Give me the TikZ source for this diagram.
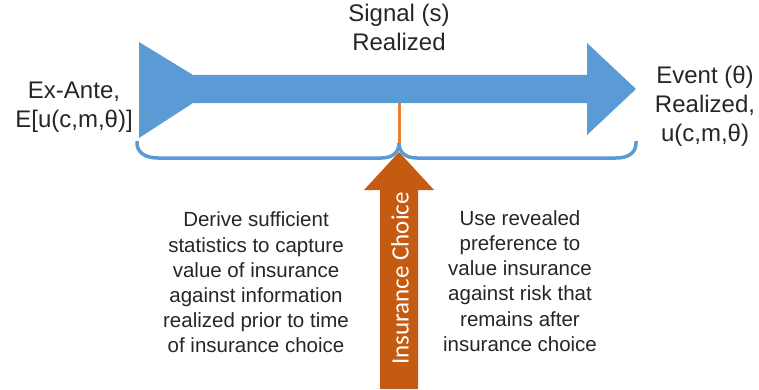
\documentclass[tikz,border=0pt]{standalone}
\usepackage{fontspec}
\setmainfont{Liberation Sans}
\newfontfamily\choicefont{Carlito}
\usetikzlibrary{positioning}

\definecolor{arrowblue}{RGB}{91,155,213}
\definecolor{lineorange}{RGB}{237,125,49}
\definecolor{choiceorange}{RGB}{197,90,17}

\begin{document}
\begin{tikzpicture}[x=1pt,y=1pt,
        lbl/.style={text=black!85,align=center,inner sep=0pt,font=\fontsize{24}{29}\selectfont},
        note/.style={text=black!85,align=center,inner sep=0pt,font=\fontsize{20.5}{25.2}\selectfont}]
        \useasboundingbox (0,0) rectangle (759,389);
        % time line
        \fill[arrowblue] (139,347) -- (193,314) -- (587,314) -- (587,346) -- (636,300)
        -- (587,254) -- (587,286) -- (193,286) -- (139,251) -- cycle;
        \coordinate (shaft) at (399,286);
        \coordinate (cusp) at (399,246);
        \draw[lineorange,line width=3pt] (shaft) -- (cusp);
        % brace under the time line
        \draw[arrowblue,line width=3.5pt] (137,248) -- (137,246) .. controls (137,236) and (146,231) .. (158,231) -- (381,231)
        .. controls (393,231) and (399,237) .. (cusp) .. controls (399,237) and (405,231) .. (417,231) -- (616,231)
        .. controls (628,231) and (636,236) .. (636,246) -- (636,248);
        % insurance choice arrow
        \fill[choiceorange] (380,0) -- (380,199) -- (364,199) -- (399,237) -- (434,199)
        -- (418,199) -- (418,0) -- cycle;
        \node[rotate=90,text=white,inner sep=0pt,font=\choicefont\fontsize{25}{30}\selectfont]
        (choice) at (400,110.5) {Insurance Choice};
        % labels
        \node[lbl] (signal) at (399,361.5) {Signal (s)\\Realized};
        \node[lbl] (exante) at (74,281.5) {Ex-Ante,\\E[u(c,m,θ)]};
        \node[lbl] (event) at (705,282.5) {Event (θ)\\Realized,\\u(c,m,θ)};
        \node[note] (derive) at (256,106.5) {Derive sufficient\\statistics to capture\\value of insurance\\against information\\realized prior to time\\of insurance choice};
        \node[note] (reveal) at (520,108) {Use revealed\\preference to\\value insurance\\against risk that\\remains after\\insurance choice};
\end{tikzpicture}
\end{document}
